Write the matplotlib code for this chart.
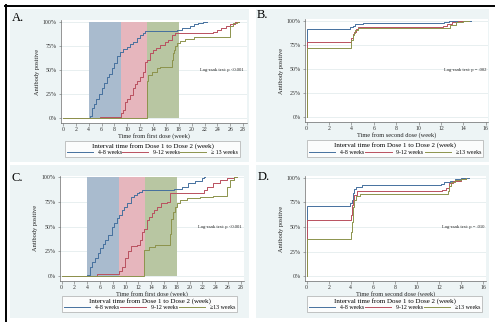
import matplotlib
matplotlib.use('Agg')
import matplotlib.pyplot as plt
from matplotlib.lines import Line2D
from matplotlib.patches import Rectangle

plt.rcParams['font.family'] = ['Liberation Serif', 'DejaVu Serif']

# ---- data ----
groups = ['4-8 weeks', '9-12 weeks', '\u226513 weeks']
groups_a = ['4-8 weeks', '9-12 weeks', '\u2265 13 weeks']
legend_title = 'Interval time from Dose 1 to Dose 2 (week)'
ticks_first = list(range(0, 29, 2))
ticks_second = list(range(0, 17, 2))
yticks = [0, 0.25, 0.5, 0.75, 1.0]
ytick_labels = ['0%', '25%', '50%', '75%', '100%']
bands = [(4, 9), (9, 13), (13, 18)]

# A: time from first dose
a1_t = [0, 4.2, 4.45, 4.8, 5.2, 5.6, 6.0, 6.4, 6.8, 7.2, 7.6, 8.0, 8.35, 8.9, 9.4, 9.9, 10.4,
        10.9, 11.5, 12.0, 12.4, 12.75, 13.0, 17.7, 18.5, 19.2, 19.8, 20.3, 21.0, 21.8, 22.2, 22.4]
a1_y = [0, 0.02, 0.10, 0.15, 0.20, 0.25, 0.31, 0.36, 0.43, 0.46, 0.515, 0.57, 0.64, 0.69, 0.72,
        0.74, 0.77, 0.79, 0.83, 0.86, 0.88, 0.90, 0.905, 0.917, 0.93, 0.94, 0.96, 0.975, 0.985,
        0.995, 1.0, 1.0]
a2_t = [0, 5.75, 9.1, 9.3, 9.6, 10.0, 10.4, 10.9, 11.2, 11.5, 12.0, 12.5, 12.75, 13.0, 13.5,
        14.0, 14.5, 15.1, 15.9, 16.4, 16.9, 17.4, 23.3, 24.0, 24.6, 25.3, 26.0, 26.8, 27.4]
a2_y = [0, 0.015, 0.05, 0.08, 0.17, 0.20, 0.24, 0.31, 0.35, 0.38, 0.43, 0.48, 0.585, 0.60, 0.67,
        0.705, 0.73, 0.76, 0.79, 0.81, 0.86, 0.88, 0.89, 0.91, 0.93, 0.96, 0.98, 1.0, 1.0]
a3_t = [0, 13.0, 13.2, 13.8, 14.6, 15.1, 16.9, 17.1, 17.2, 17.4, 17.7, 18.2, 19.0, 20.3, 25.9,
        26.4, 27.0, 27.4]
a3_y = [0, 0.38, 0.45, 0.48, 0.515, 0.53, 0.60, 0.67, 0.71, 0.75, 0.78, 0.80, 0.82, 0.845, 0.96,
        0.99, 1.0, 1.0]

# B: time from second dose
b1_t = [0, 0, 3.9, 4.1, 4.3, 5.0, 12.3, 12.7, 13.0, 14.7]
b1_y = [0, 0.914, 0.93, 0.95, 0.966, 0.975, 0.99, 0.995, 1.0, 1.0]
b2_t = [0, 0, 4.0, 4.1, 4.2, 4.4, 4.6, 12.2, 12.5, 13.0, 13.5, 14.0]
b2_y = [0, 0.78, 0.82, 0.86, 0.88, 0.91, 0.93, 0.95, 0.97, 0.985, 0.995, 1.0]
b3_t = [0, 0, 4.0, 4.1, 4.2, 4.3, 4.6, 12.8, 13.3, 14.0, 14.5]
b3_y = [0, 0.714, 0.80, 0.85, 0.87, 0.90, 0.92, 0.955, 0.99, 0.995, 1.0]

# C: time from first dose
c1_t = [0, 4.0, 4.4, 4.8, 5.2, 5.6, 6.0, 6.4, 6.8, 7.3, 7.8, 8.2, 8.6, 9.0, 9.4, 9.8, 10.2,
        10.9, 11.3, 11.7, 12.1, 12.5, 13.0, 17.5, 18.8, 19.8, 20.9, 21.9, 22.2, 22.4]
c1_y = [0, 0.01, 0.095, 0.14, 0.18, 0.23, 0.28, 0.32, 0.365, 0.415, 0.50, 0.54, 0.585, 0.62,
        0.67, 0.70, 0.74, 0.80, 0.82, 0.84, 0.855, 0.87, 0.875, 0.885, 0.905, 0.94, 0.966, 0.99,
        1.0, 1.0]
c2_t = [0, 5.5, 9.0, 9.4, 9.9, 10.4, 10.9, 11.7, 12.3, 12.5, 12.9, 13.3, 13.7, 14.1, 14.5, 14.9,
        15.6, 16.4, 16.9, 22.2, 22.7, 23.7, 24.8, 25.8, 26.9, 27.4]
c2_y = [0, 0.017, 0.05, 0.095, 0.18, 0.25, 0.30, 0.31, 0.365, 0.45, 0.48, 0.57, 0.60, 0.635,
        0.67, 0.70, 0.74, 0.75, 0.84, 0.87, 0.905, 0.94, 0.97, 0.99, 1.0, 1.0]
c3_t = [0, 12.9, 13.6, 14.6, 16.9, 17.1, 17.4, 17.7, 18.1, 18.5, 19.6, 21.6, 23.7, 25.8, 26.3,
        26.9, 27.4]
c3_y = [0, 0.26, 0.29, 0.31, 0.43, 0.58, 0.65, 0.70, 0.74, 0.77, 0.79, 0.80, 0.81, 0.905, 0.97,
        1.0, 1.0]

# D: time from second dose
d1_t = [0, 0, 3.9, 4.1, 4.2, 4.3, 4.5, 5.0, 12.2, 12.5, 13.0, 13.5, 14.0, 14.7]
d1_y = [0, 0.71, 0.74, 0.78, 0.85, 0.89, 0.91, 0.925, 0.94, 0.955, 0.97, 0.985, 0.995, 1.0]
d2_t = [0, 0, 4.0, 4.1, 4.2, 4.3, 4.6, 12.3, 12.6, 12.9, 13.3, 14.0, 14.5]
d2_y = [0, 0.57, 0.62, 0.72, 0.78, 0.83, 0.865, 0.88, 0.90, 0.95, 0.97, 0.99, 1.0]
d3_t = [0, 0, 4.0, 4.15, 4.2, 4.3, 4.5, 4.8, 12.8, 12.9, 13.1, 13.5, 14.0, 14.5]
d3_y = [0, 0.38, 0.45, 0.55, 0.70, 0.78, 0.82, 0.84, 0.87, 0.92, 0.96, 0.98, 0.99, 1.0]

pvals = ['Log-rank test: p <0.001', 'Log-rank test: p = .002',
         'Log-rank test: p <0.001', 'Log-rank test: p = .010']

# ---- styling ----
W, H = 495, 322
line_cols = ['#45709e', '#b9505f', '#8c934c']
band_cols = ['#a9bbce', '#e6b6bd', '#b8c6a2']
bg = '#edf4f5'
grid_col = '#e4ecee'
axis_col = '#6a6a6a'


def fx(px):
    return px / W


def fy(py):
    return 1 - py / H


def rect(x0, y0, x1, y1):
    return [fx(x0), fy(y1), (x1 - x0) / W, (y1 - y0) / H]


fig = plt.figure(figsize=(4.95, 3.22), dpi=100)
fig.patch.set_facecolor('white')

# panel backgrounds
for x0, y0, x1, y1 in [(10, 9, 249, 162), (256, 9, 489, 162),
                       (10, 165, 249, 318), (256, 165, 489, 318)]:
    fig.add_artist(Rectangle((fx(x0), fy(y1)), (x1 - x0) / W, (y1 - y0) / H,
                             transform=fig.transFigure, facecolor=bg, edgecolor='none', zorder=0))

# black frame lines top / left
fig.add_artist(Line2D([fx(5), 1], [fy(5.5), fy(5.5)], transform=fig.transFigure, color='black', lw=1.4))
fig.add_artist(Line2D([fx(5.5), fx(5.5)], [fy(5), 0], transform=fig.transFigure, color='black', lw=1.4))

panels = [
    dict(letter='A.', lx=12, ly=18, box=(61, 20, 247, 123), xlim=(-0.3, 28.6), ylim=(-0.052, 1.018),
         series=[(a1_t, a1_y), (a2_t, a2_y), (a3_t, a3_y)], ticks=ticks_first, bands=True,
         xlabel='Time from first dose (week)', labels=groups_a, leg=(65, 140, 240, 158),
         ptxt=(243, 70)),
    dict(letter='B.', lx=257, ly=15, box=(305, 19, 488, 122), xlim=(-0.15, 16.2), ylim=(-0.052, 1.018),
         series=[(b1_t, b1_y), (b2_t, b2_y), (b3_t, b3_y)], ticks=ticks_second, bands=False,
         xlabel='Time from second dose (week)', labels=groups, leg=(307, 140, 483, 157),
         ptxt=(486, 70)),
    dict(letter='C.', lx=12, ly=178, box=(59.5, 175.5, 244, 281), xlim=(-0.34, 28.5), ylim=(-0.05, 1.018),
         series=[(c1_t, c1_y), (c2_t, c2_y), (c3_t, c3_y)], ticks=ticks_first, bands=True,
         xlabel='Time from first dose (week)', labels=groups, leg=(62, 296, 237, 312),
         ptxt=(241, 227)),
    dict(letter='D.', lx=258, ly=177, box=(305, 176, 486, 281), xlim=(-0.15, 16.27), ylim=(-0.05, 1.02),
         series=[(d1_t, d1_y), (d2_t, d2_y), (d3_t, d3_y)], ticks=ticks_second, bands=False,
         xlabel='Time from second dose (week)', labels=groups, leg=(307, 296, 482, 312),
         ptxt=(484, 227)),
]

for i, p in enumerate(panels):
    x0, y0, x1, y1 = p['box']
    ax = fig.add_axes(rect(x0, y0, x1, y1))
    ax.set_facecolor('white')
    ax.set_xlim(*p['xlim'])
    ax.set_ylim(*p['ylim'])
    for yv in yticks:
        ax.axhline(yv, color=grid_col, lw=0.6, zorder=0)
    if p['bands']:
        for (b0, b1), c in zip(bands, band_cols):
            ax.fill_between([b0, b1], 0, 1, color=c, lw=0, zorder=1)
    handles = []
    for (t, y), c in zip(p['series'], line_cols):
        ax.step(t, y, where='post', color=c, lw=0.7, zorder=3)
        handles.append(Line2D([], [], color=c, lw=0.7))

    for s in ['top', 'right']:
        ax.spines[s].set_visible(False)
    for s in ['left', 'bottom']:
        ax.spines[s].set_color(axis_col)
        ax.spines[s].set_linewidth(0.5)
    ax.set_xticks(p['ticks'])
    ax.set_yticks(yticks)
    ax.set_yticklabels(ytick_labels)
    ax.tick_params(axis='both', colors=axis_col, labelcolor='#333333', length=1.8,
                   width=0.4, labelsize=4.2, pad=1.2)
    ax.set_xlabel(p['xlabel'], fontsize=4.6, color='#222222')
    ax.xaxis.set_label_coords(0.5, -(10.5 / (y1 - y0)))
    ax.set_ylabel('Antibody positive', fontsize=4.6, color='#222222')
    ax.yaxis.set_label_coords(-(21 / (x1 - x0)), 0.5)

    fig.text(fx(p['ptxt'][0]), fy(p['ptxt'][1]), pvals[i], fontsize=3.3,
             ha='right', va='center', color='#222222')
    fig.text(fx(p['lx']), fy(p['ly']), p['letter'], fontsize=9, ha='left', va='center')

    lx0, ly0, lx1, ly1 = p['leg']
    leg = ax.legend(handles, p['labels'], title=legend_title, ncol=3, loc='center',
                    bbox_to_anchor=(fx(lx0), fy(ly1), (lx1 - lx0) / W, (ly1 - ly0) / H),
                    bbox_transform=fig.transFigure, mode='expand', fontsize=4.2,
                    title_fontsize=5, frameon=True, fancybox=False, borderpad=0.35,
                    handlelength=4.5, handletextpad=0.8, columnspacing=1.0,
                    labelspacing=0.2, borderaxespad=0)
    leg.get_frame().set_edgecolor('#9a9a9a')
    leg.get_frame().set_linewidth(0.5)
    leg.get_frame().set_facecolor('white')

fig.savefig('out.png', dpi=100, facecolor='white')
